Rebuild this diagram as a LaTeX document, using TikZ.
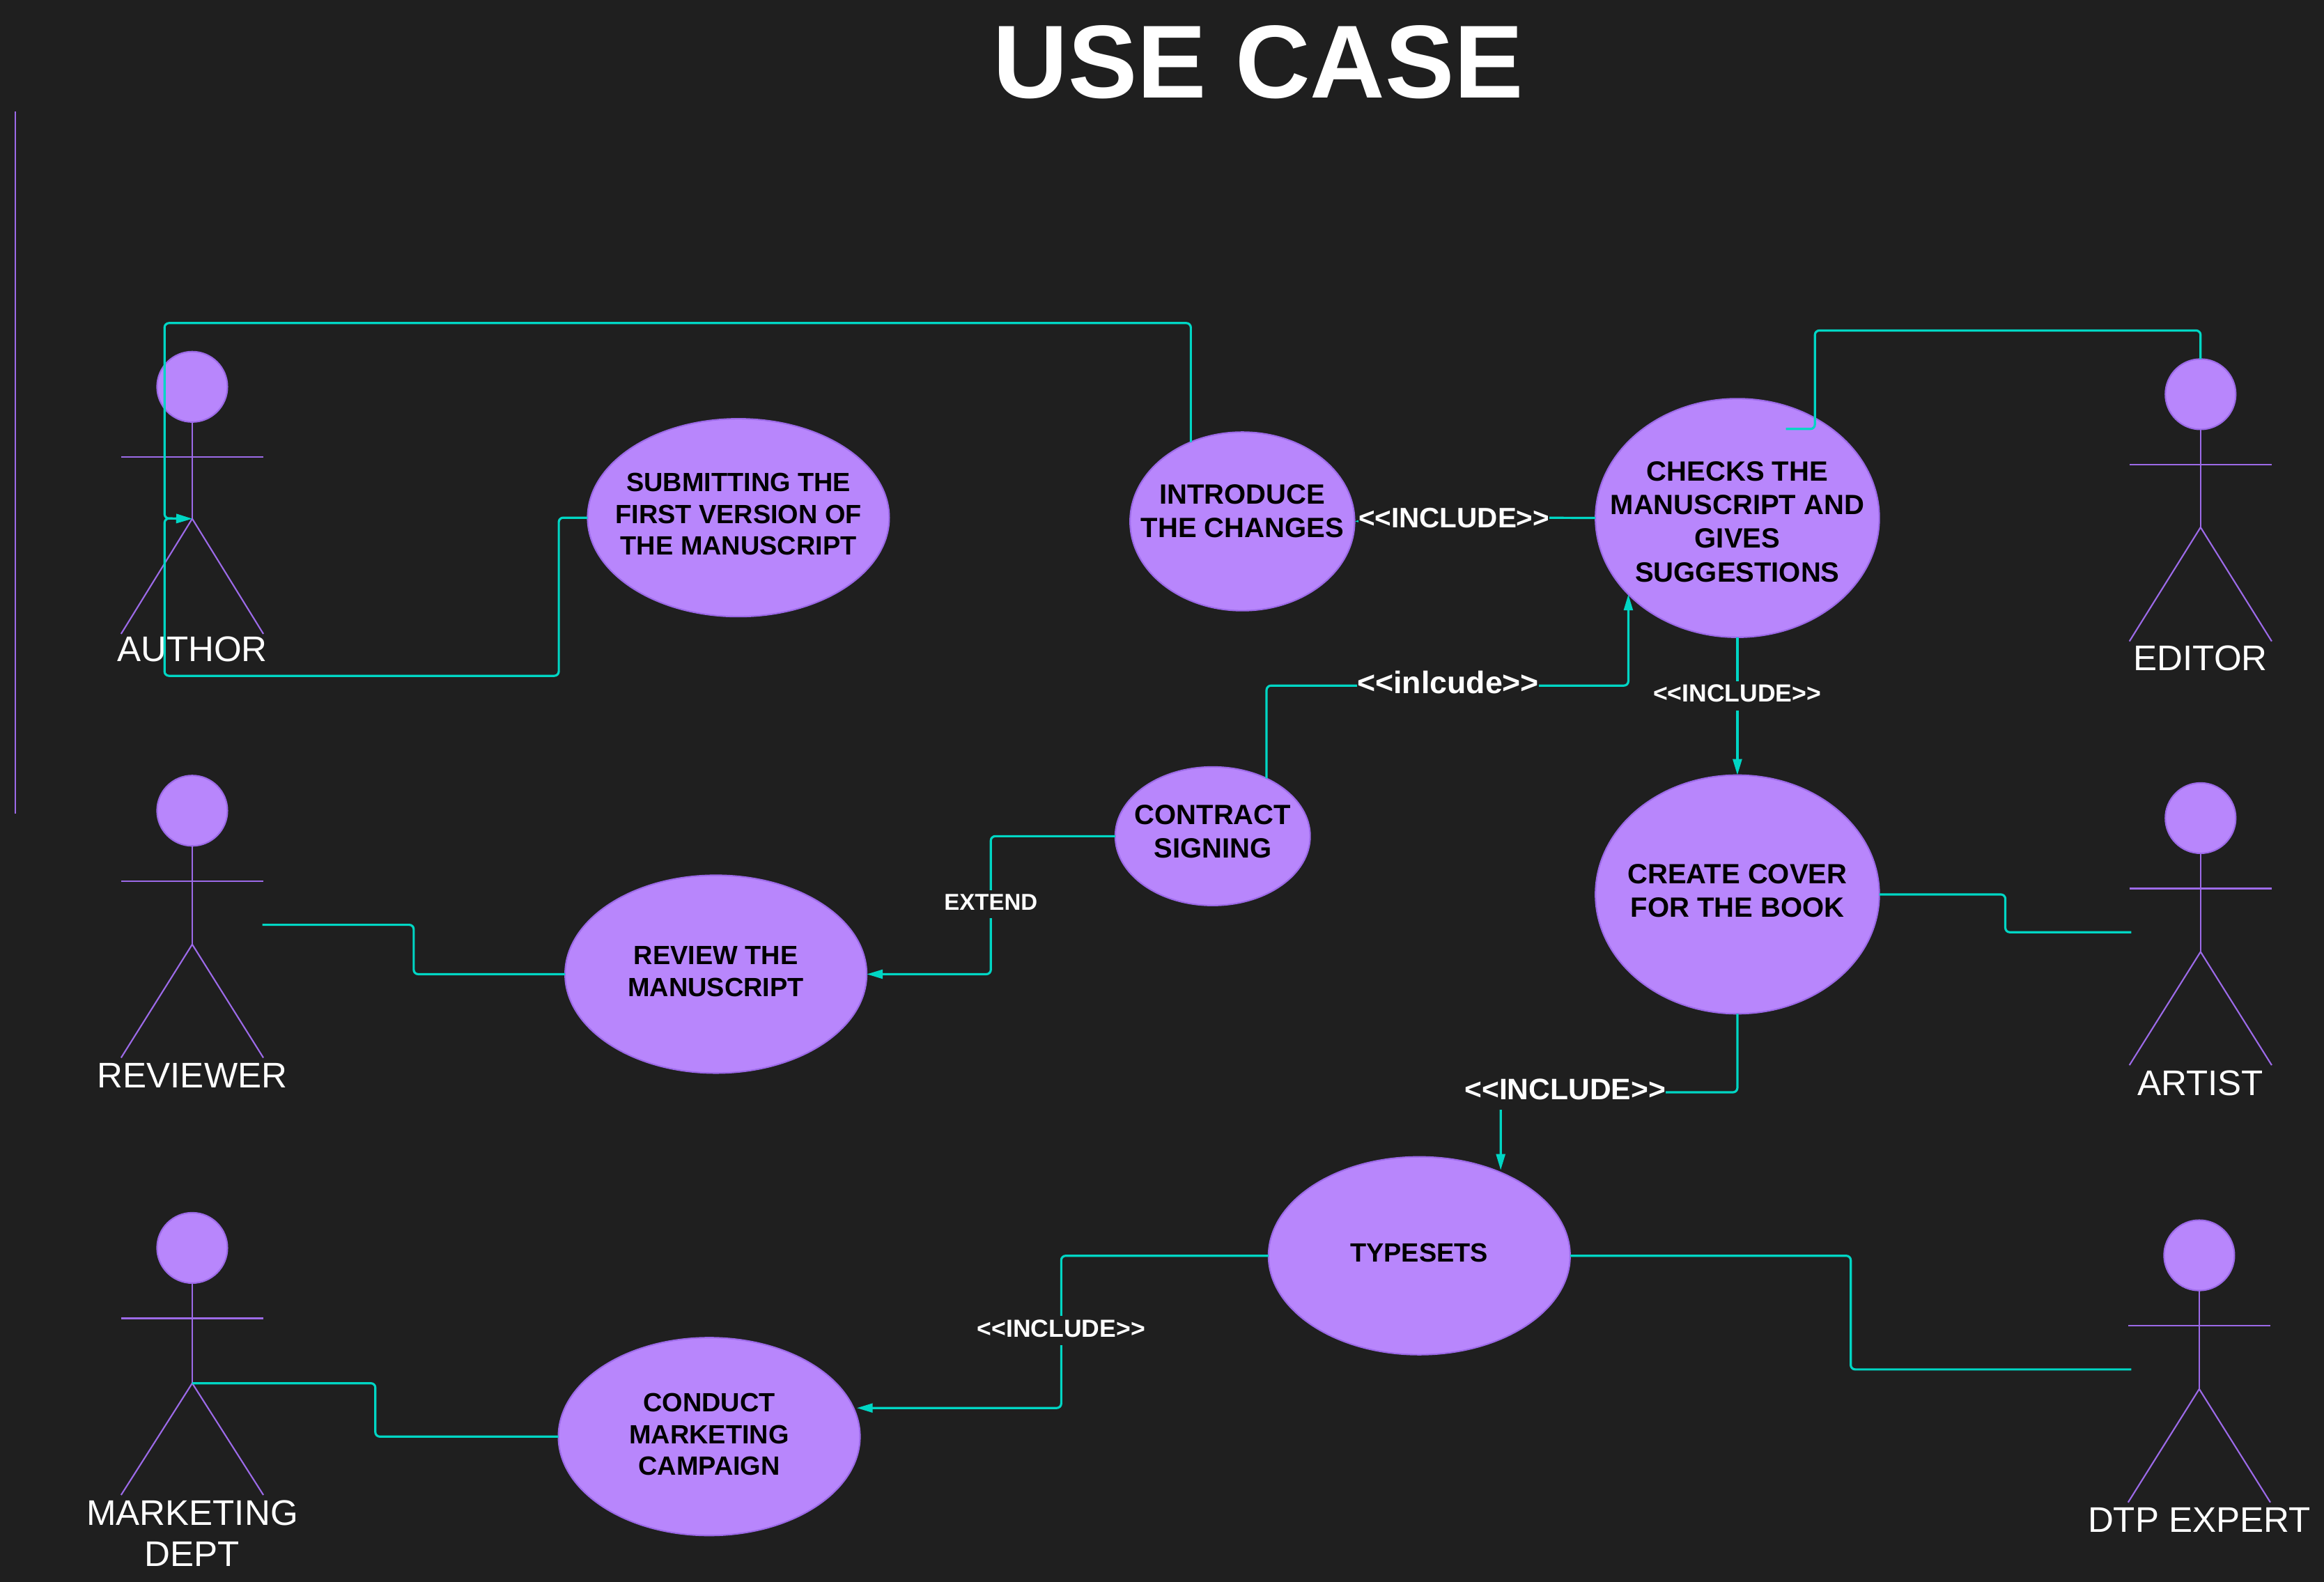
\documentclass[tikz,border=0pt]{standalone}
\usepackage{fontspec}
\setmainfont{Liberation Sans}
\usepackage{tikz}
\usetikzlibrary{positioning,shapes.geometric,arrows.meta,calc}

\definecolor{bgdark}{RGB}{31,31,31}
\definecolor{casefill}{RGB}{184,134,252}
\definecolor{caseline}{RGB}{156,106,232}
\definecolor{linkteal}{RGB}{0,214,196}

\tikzset{
  usecase/.style={ellipse,fill=casefill,draw=caseline,line width=1pt,inner sep=0pt,outer sep=0pt},
  bigcase/.style={usecase,minimum width=203.5pt,minimum height=133.5pt},
  casetext/.style 2 args={align=center,text=black,inner sep=0pt,font=\bfseries\fontsize{#1}{#2}\selectfont},
  stick/.style={draw=caseline,line width=1pt},
  link/.style={draw=linkteal,line width=1.5pt,rounded corners=3pt},
  linkarrow/.style={link,-{Triangle[length=10.8pt,width=6pt]}},
  ann/.style={fill=bgdark,text=white,inner sep=0pt,text height=0.85*#1pt,text depth=0.35*#1pt,font=\bfseries\fontsize{#1}{#1}\selectfont}
}

\begin{document}
\begin{tikzpicture}[x=1pt,y=-1pt]
    \useasboundingbox (0,0) rectangle (1568,1067.4);
    \fill[bgdark] (0,0) rectangle (1568,1067.4);  %page background

    \node[text=white,inner sep=0pt,font=\bfseries\fontsize{70}{80}\selectfont] (title) at (849,42) {USE CASE};
    \coordinate (railtop) at (10.5,75);
    \coordinate (railbot) at (10.5,549);
    \draw[stick] (railtop) -- (railbot);

    %actors: head, spine, arms, legs, name
    \foreach \who/\hx/\hy/\hip/\ny/\txt in {author/129.7/261/89/168.4/AUTHOR, reviewer/129.7/547/90.2/170/REVIEWER, marketing/129.7/842/91.3/170/{MARKETING\\DEPT},
                                   editor/1484.7/266/89.8/169.4/EDITOR, artist/1484.7/552/90.2/170/ARTIST, dtp/1483.8/847/90.2/170/DTP EXPERT} {
        \node[circle,fill=casefill,draw=caseline,line width=1pt,minimum size=47.5pt,inner sep=0pt,outer sep=0pt] (\who head) at (\hx,\hy) {};
        \coordinate (\who hip) at (\hx,\hy+\hip);
        \draw[stick] (\who head.south) -- (\who hip);
        \draw[stick] (\hx-48,\hy+47.5) -- (\hx+48,\hy+47.5);
        \draw[stick] (\hx-48,\hy+166.7) -- (\who hip) -- (\hx+48,\hy+166.7);
        \node[anchor=north,align=center,text=white,inner sep=0pt,font=\fontsize{24}{28}\selectfont] (\who name) at (\hx,\hy+\ny) {\txt};
    }

    %use cases
    \node[bigcase] (submit) at (498.2,349.3) {};
    \node[usecase,minimum width=151.5pt,minimum height=120.5pt] (intro) at (838.2,351.8) {};
    \node[usecase,minimum width=191.5pt,minimum height=161pt] (check) at (1172.2,349.5) {};
    \node[usecase,minimum width=131.5pt,minimum height=93.5pt] (contract) at (818.2,564.2) {};
    \node[usecase,minimum width=191.5pt,minimum height=161pt] (create) at (1172.2,603.5) {};
    \node[bigcase] (review) at (483,657.3) {};
    \node[bigcase] (typeset) at (957.6,847.3) {};
    \node[bigcase] (conduct) at (478.5,969.3) {};

    \node[casetext={17.8}{21.3}] (submittxt) at (498.3,347) {SUBMITTING THE\\FIRST VERSION OF\\THE MANUSCRIPT};
    \node[casetext={18.8}{22.7}] (introtxt) at (838.2,345) {INTRODUCE\\THE CHANGES};
    \node[casetext={18.8}{22.7}] (checktxt) at (1172.2,352) {CHECKS THE\\MANUSCRIPT AND\\GIVES\\SUGGESTIONS};
    \node[casetext={18.8}{22.7}] (contracttxt) at (818.3,561) {CONTRACT\\SIGNING};
    \node[casetext={18.8}{22.7}] (createtxt) at (1172.2,601) {CREATE COVER\\FOR THE BOOK};
    \node[casetext={17.8}{21.3}] (reviewtxt) at (483,655.5) {REVIEW THE\\MANUSCRIPT};
    \node[casetext={17.8}{21.3}] (typesettxt) at (957.5,845.2) {TYPESETS};
    \node[casetext={17.8}{21.3}] (conducttxt) at (478.5,967.8) {CONDUCT\\MARKETING\\CAMPAIGN};

    %elbows and free ends
    \coordinate (authortop) at (111,218);
    \coordinate (authordrop) at (111,456);
    \coordinate (authorbend) at (111,349.8);
    \coordinate (submitbend) at (377,456);
    \coordinate (editortop) at (1224.5,223);
    \coordinate (checkin) at (1205,289.4);
    \coordinate (checkmid) at (981,349);
    \coordinate (signmid) at (977,462.6);
    \coordinate (createmid) at (1172,469.5);
    \coordinate (extendmid) at (668.5,610);
    \coordinate (typemid) at (1056,736.7);
    \coordinate (typedown) at (1012.5,737);
    \coordinate (typein) at (1012.5,789.5);
    \coordinate (conductmid) at (716,897.8);
    \coordinate (conductin) at (578,950);
    \coordinate (reviewerhand) at (177,624);
    \coordinate (artisthand) at (1438,629);
    \coordinate (dtphand) at (1438,924);

    %connectors
    \draw[linkarrow] (intro.123.7) |- (authortop) -- (authorbend) -- (authorhip);
    \draw[linkarrow] (submit.west) -| (submitbend) -- (authordrop) -- (authorbend) -- (authorhip);
    \draw[link] (editorhead.north) |- (editortop) -- (editortop |- checkin) -- (checkin);
    \draw[linkarrow] (check.west) -- (checkmid) -- (intro.east);
    \draw[linkarrow] (contract.47) |- (signmid) -| (check.215);
    \draw[linkarrow] (check.south) -- (create.north);
    \draw[linkarrow] (contract.west) -| (extendmid) |- (review.east);
    \draw[link] (reviewerhand) -| ($(reviewerhand)!0.5!(review.west)$) |- (review.west);
    \draw[link] (create.east) -| ($(create.east)!0.5!(artisthand)$) |- (artisthand);
    \draw[linkarrow] (create.south) |- (typedown) -- (typein);
    \draw[link] (typeset.east) -| ($(typeset.east)!0.5!(dtphand)$) |- (dtphand);
    \draw[linkarrow] (typeset.west) -| (conductmid) |- (conductin);
    \draw[link] (marketinghip) -| ($(marketinghip)!0.5!(conduct.west)$) |- (conduct.west);

    %connector labels
    \node[ann=19,yshift=-2.3pt] (checklbl) at (checkmid) {<{}<INCLUDE>{}>};
    \node[ann=21] (signlbl) at (signmid) {<{}<inlcude>{}>};
    \node[ann=16.7] (createlbl) at (createmid) {<{}<INCLUDE>{}>};
    \node[ann=15.5] (extendlbl) at (extendmid) {EXTEND};
    \node[ann=20] (typelbl) at (typemid) {<{}<INCLUDE>{}>};
    \node[ann=16.7] (conductlbl) at (conductmid) {<{}<INCLUDE>{}>};
\end{tikzpicture}
\end{document}
